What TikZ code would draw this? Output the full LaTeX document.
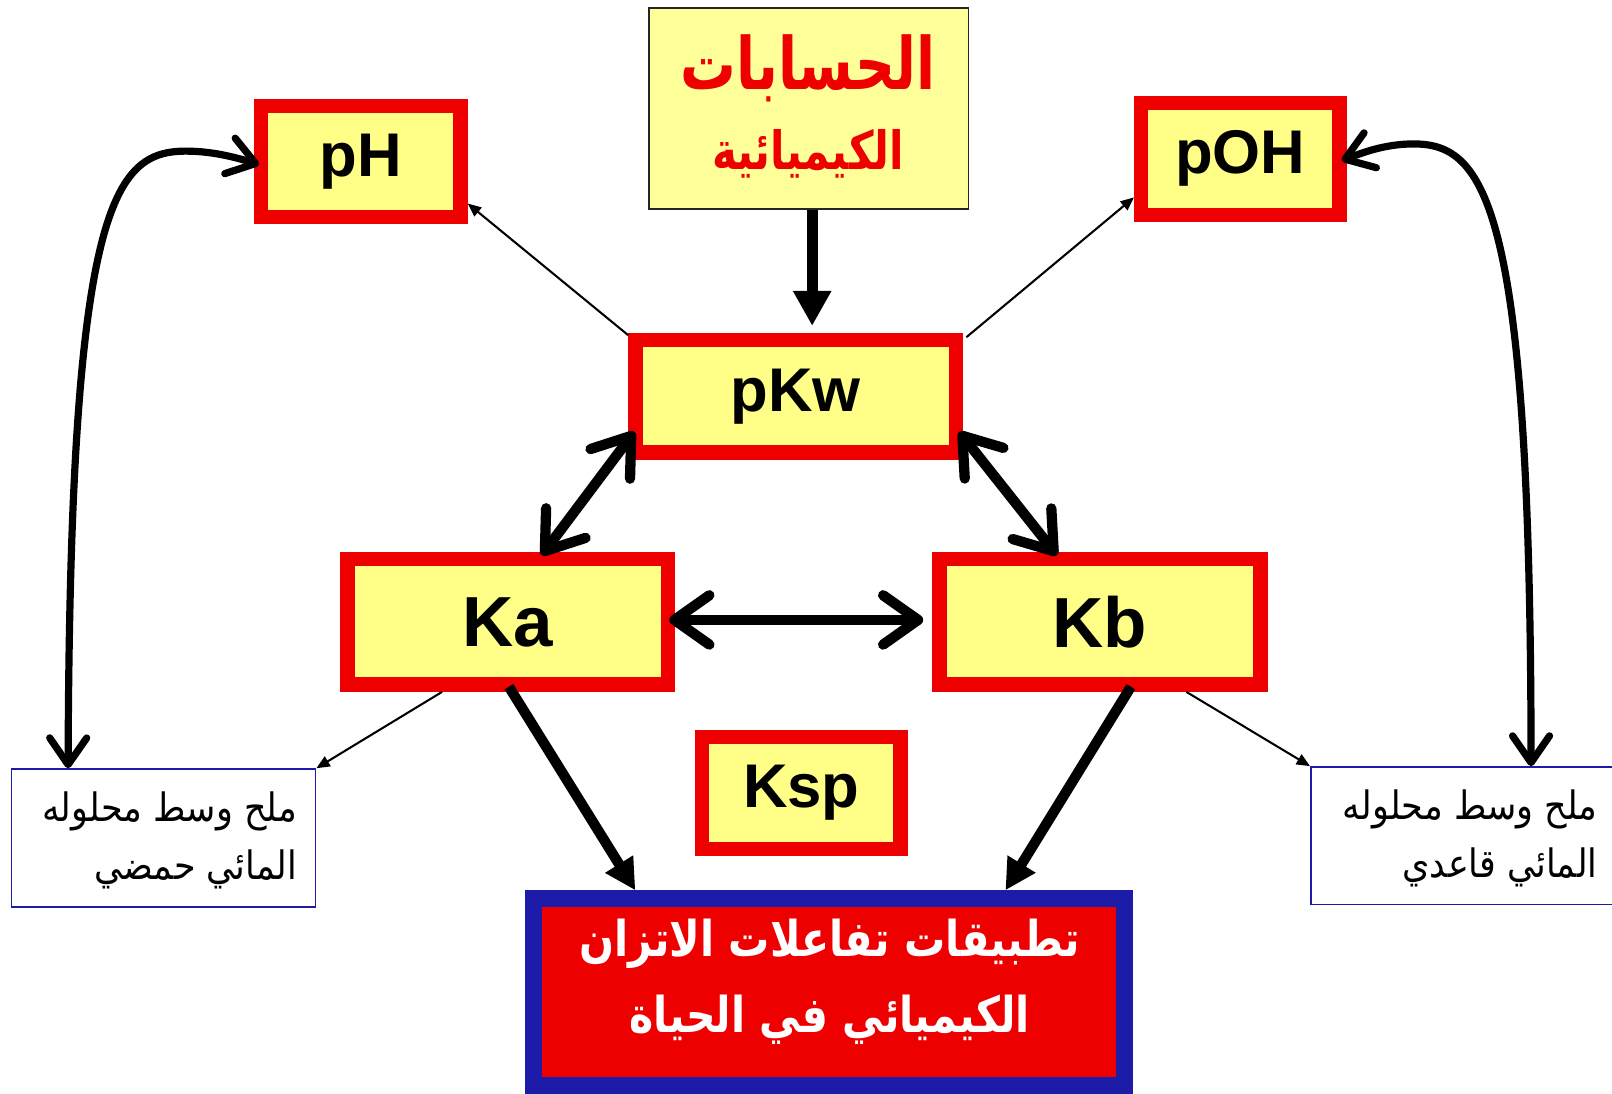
\documentclass[tikz,border=0pt]{standalone}
\usepackage{fontspec}
\setmainfont{Liberation Sans}
\newfontfamily\arabicfont[Script=Arabic]{DejaVu Sans}
\TeXXeTstate=1
\usetikzlibrary{arrows.meta,calc}
\definecolor{bred}{HTML}{EE0000}
\definecolor{byellow}{HTML}{FFFF88}
\definecolor{tyellow}{HTML}{FFFF99}
\definecolor{bblue}{HTML}{1C1CA8}
\tikzset{
  redbox/.style={draw=bred, line width=14pt, fill=byellow, inner sep=0pt},
  latin/.style={font=\fontsize{60}{60}\selectfont\bfseries, inner sep=0pt},
  biglatin/.style={font=\fontsize{69}{69}\selectfont\bfseries, inner sep=0pt},
  saltbox/.style={draw=bblue, line width=1.5pt, fill=white, inner sep=0pt, minimum height=134pt},
  salttext/.style={font=\arabicfont\fontsize{34}{34}\selectfont, inner sep=0pt, anchor=east},
  toptext/.style={text=bred, inner sep=0pt},
  bottext/.style={text=white, inner sep=0pt, font=\arabicfont\bfseries\fontsize{40}{40}\selectfont},
  barb/.tip={Straight Barb[length=34pt,width=48pt,round]},
  vtip/.tip={Straight Barb[length=26pt,width=36pt,round]},
  thickdbl/.style={line width=10pt, line cap=round, barb-barb},
  thickarr/.style={line width=10pt, -{Triangle[length=30pt,width=30pt]}},
  thinarr/.style={line width=2pt, -{Triangle[length=13pt,width=11pt]}},
  curvearr/.style={line width=7pt, line cap=round, vtip-vtip},
}
\begin{document}
\begin{tikzpicture}[x=1pt,y=-1pt]
\useasboundingbox (0,0) rectangle (1568,1064);
% top box
\node[draw=black!85, line width=1.8pt, fill=tyellow, minimum width=311pt, minimum height=195pt, inner sep=0pt] (top) at (786.5,105.5) {};
\node[toptext, font=\arabicfont\bfseries\fontsize{54}{54}\selectfont] (top1) at (786,66) {\scalebox{1}[1.3]{\beginR الحسابات\endR}};
\node[toptext, font=\arabicfont\bfseries\fontsize{41}{41}\selectfont] (top2) at (786,150) {\scalebox{1}[1.25]{\beginR الكيميائية\endR}};
% red boxes
\node[redbox, minimum width=194pt, minimum height=108pt, latin] (pH) at (351,157) {pH};
\node[redbox, minimum width=193pt, minimum height=109pt, latin] (pOH) at (1206.5,154.5) {pOH};
\node[redbox, minimum width=312pt, minimum height=109pt, latin] (pKw) at (774,385.5) {pKw};
\node[redbox, minimum width=312pt, minimum height=122pt, biglatin] (Ka) at (494,605) {Ka};
\node[redbox, minimum width=312pt, minimum height=122pt, biglatin] (Kb) at (1070,605) {Kb};
\node[redbox, minimum width=193pt, minimum height=109pt, latin] (Ksp) at (779.5,771.5) {Ksp};
% bottom box
\node[draw=bblue, line width=16pt, fill=bred, minimum width=575pt, minimum height=182pt, inner sep=0pt] (app) at (806.5,965) {};
\node[bottext] (app1) at (807,918) {\scalebox{1}[1.2]{\beginR تطبيقات تفاعلات الاتزان\endR}};
\node[bottext] (app2) at (807,992) {\scalebox{1}[1.2]{\beginR الكيميائي في الحياة\endR}};
% salt boxes
\node[saltbox, minimum width=296pt] (acid) at (159,815) {};
\node[salttext] (acid1) at (289,789) {\scalebox{1}[1.12]{\beginR ملح وسط محلوله\endR}};
\node[salttext] (acid2) at (289,846) {\scalebox{1}[1.12]{\beginR المائي حمضي\endR}};
\node[saltbox, minimum width=304pt] (base) at (1427,813) {};
\node[salttext] (base1) at (1554,787) {\scalebox{1}[1.12]{\beginR ملح وسط محلوله\endR}};
\node[salttext] (base2) at (1554,844) {\scalebox{1}[1.12]{\beginR المائي قاعدي\endR}};
% coordinates
\coordinate (kwl) at ($(pKw.south west)+(6,-27)$);
\coordinate (kwr) at ($(pKw.south east)+(-4,-27)$);
\coordinate (kat) at ($(Ka.north west)+(196,3)$);
\coordinate (kbt) at ($(Kb.north west)+(121,3)$);
\coordinate (kwtl) at ($(pKw.north west)+(0,2)$);
\coordinate (kwtr) at ($(pKw.north east)+(3,4)$);
\coordinate (kab) at ($(Ka.south)+(-64,0)$);
\coordinate (kab2) at ($(Ka.south)+(1,-5)$);
\coordinate (kbb) at ($(Kb.south)+(84,0)$);
\coordinate (kbb2) at ($(Kb.south)+(30,-5)$);
\coordinate (appl) at ($(app.north west)+(107,0)$);
\coordinate (appr) at ($(app.north east)+(-124,0)$);
\coordinate (pHc) at ($(pH.south east)+(0,-20)$);
\coordinate (pOHc) at ($(pOH.south west)+(0,-24)$);
\coordinate (pHl) at ($(pH.west)+(5,3)$);
\coordinate (pOHr) at ($(pOH.east)+(-5,1.5)$);
\coordinate (acidt) at ($(acid.north west)+(56,0)$);
\coordinate (baset) at ($(base.north west)+(215,0)$);
% connectors
\draw[line width=11pt, -{Triangle[length=34pt,width=35pt]}] (top.south -| 790,0) -- ($(pKw.north -| 790,0)+(0,-7)$);
\draw[thickdbl] (kwl) -- (kat);
\draw[thickdbl] (kwr) -- (kbt);
\draw[thickdbl] ($(Ka.east)+(-6,-2)$) -- ($(Kb.west)+(-9,-2)$);
\draw[thickarr] (kab2) -- (appl);
\draw[thickarr] (kbb2) -- (appr);
\draw[thinarr] (kab) -- (acid.north east);
\draw[thinarr] (kbb) -- (base.north west);
\draw[thinarr] (kwtl) -- (pHc);
\draw[thinarr] (kwtr) -- (pOHc);
\draw[curvearr] (acidt) .. controls (68,200) and (110,147) .. (181,147) .. controls (210,147) and (235,155) .. (pHl);
\draw[curvearr] (baset) .. controls (1489,200) and (1445,140) .. (1375,140) .. controls (1345,140) and (1322,150) .. (pOHr);
\end{tikzpicture}
\end{document}
